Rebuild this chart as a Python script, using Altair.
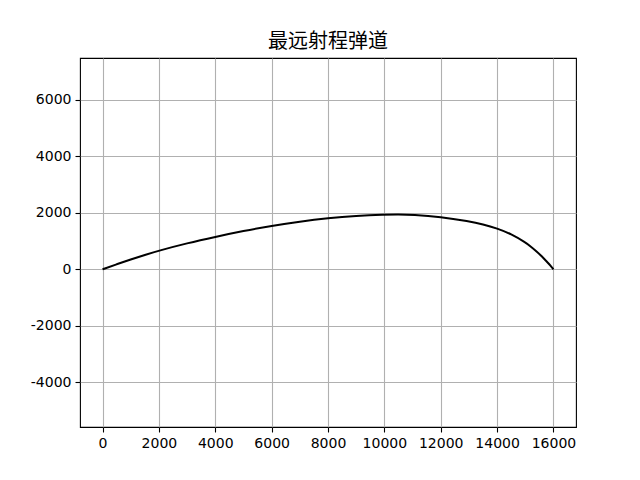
import altair as alt
import pandas as pd

x_vals = [0, 500, 1000, 1500, 2000, 3000, 4000, 5000, 6000, 7000, 8000, 9000, 10000, 10500, 11000,
          12000, 13000, 13500, 14000, 14500, 15000, 15200, 15400, 15600, 15700, 15800, 15900, 16000]
y_vals = [0, 178, 347, 508, 660, 922, 1148, 1358, 1538, 1690, 1810, 1892, 1936, 1942, 1933,
          1858, 1698, 1593, 1448, 1250, 953, 804, 634, 444, 340, 232, 119, 0]
x_ticks = [0, 2000, 4000, 6000, 8000, 10000, 12000, 14000, 16000]
y_ticks = [-4000, -2000, 0, 2000, 4000, 6000]
title_text = "最远射程弹道"

df = pd.DataFrame({"x": x_vals, "y": y_vals, "i": list(range(len(x_vals)))})

chart = alt.Chart(df).mark_line(color="black", strokeWidth=2, interpolate="basis", clip=True).encode(
    x=alt.X("x:Q", scale=alt.Scale(domain=[-800, 16800], nice=False, zero=False),
            axis=alt.Axis(values=x_ticks, title=None, labelExpr="replace(format(datum.value, 'd'), '−', '-')")),
    y=alt.Y("y:Q", scale=alt.Scale(domain=[-5575, 7470], nice=False, zero=False),
            axis=alt.Axis(values=y_ticks, title=None, labelExpr="replace(format(datum.value, 'd'), '−', '-')")),
    order="i:Q",
).properties(
    width=496, height=369,
    title=alt.TitleParams(title_text, font="Noto Sans CJK SC", fontSize=20, fontWeight="normal",
                          color="black", offset=6, anchor="middle"),
    autosize=alt.AutoSizeParams(type="none"),
    padding={"left": 72, "top": 50, "right": 56, "bottom": 45},
).configure_view(stroke="black", strokeWidth=1.1).configure_axis(
    domain=False, grid=True, gridColor="#b0b0b0", gridWidth=1.1,
    tickColor="black", tickSize=5, tickWidth=1.1,
    labelFont="DejaVu Sans", labelFontSize=14, labelColor="black", labelPadding=4,
    labelFlush=False, labelOverlap=False,
)

chart.save("out.html", embed_options={"renderer": "svg", "actions": False})
